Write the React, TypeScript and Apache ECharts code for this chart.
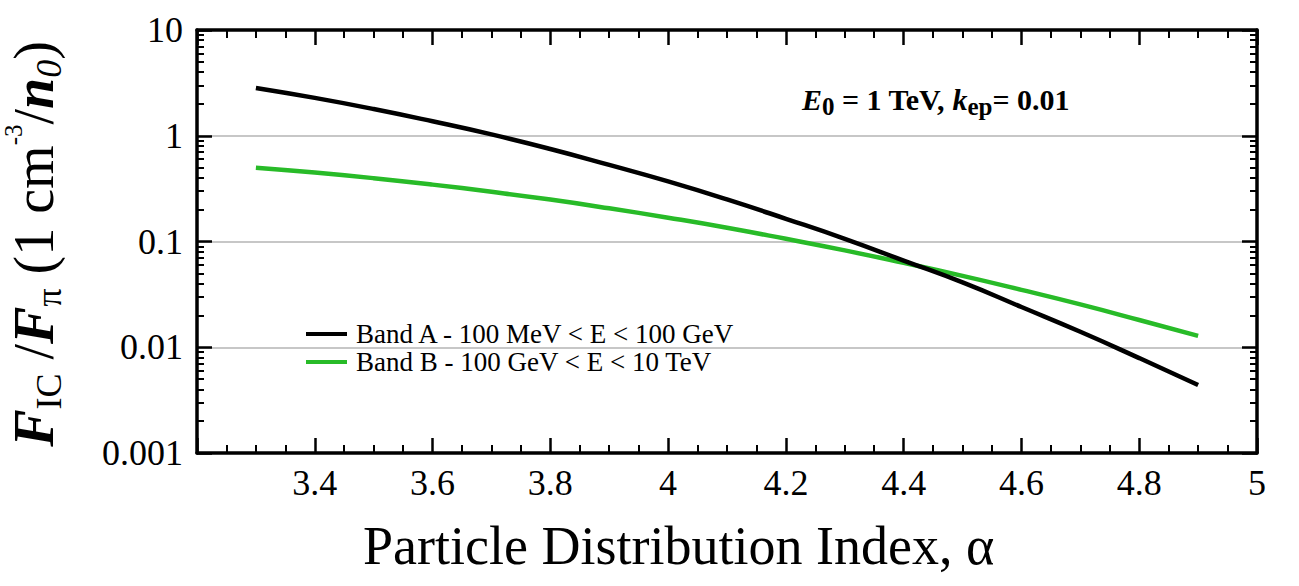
import React, { useEffect, useRef } from 'react';
import * as echarts from 'echarts';

// Particle distribution index (alpha) sample points
const alpha = [3.3, 3.4, 3.5, 3.6, 3.7, 3.8, 3.9, 4.0, 4.1, 4.2, 4.3, 4.4, 4.5, 4.6, 4.7, 4.8, 4.9];
// F_IC / F_pi, Band A (100 MeV < E < 100 GeV)
const bandA = [2.83, 2.28, 1.79, 1.37, 1.03, 0.75, 0.53, 0.37, 0.25, 0.164, 0.106, 0.066, 0.041, 0.024, 0.014, 0.0079, 0.0044];
// F_IC / F_pi, Band B (100 GeV < E < 10 TeV)
const bandB = [0.499, 0.449, 0.397, 0.345, 0.295, 0.249, 0.206, 0.168, 0.135, 0.106, 0.0824, 0.0628, 0.0473, 0.0349, 0.0254, 0.0181, 0.0128];

const seriesNames = ['Band A - 100 MeV < E < 100 GeV', 'Band B - 100 GeV < E < 10 TeV'];
const seriesColors = ['#000000', '#28bb28'];

const yTickLabels = ['0.001', '0.01', '0.1', '1', '10'];
const yMinorTicks = [
  0.002, 0.003, 0.004, 0.005, 0.006, 0.007, 0.008, 0.009,
  0.02, 0.03, 0.04, 0.05, 0.06, 0.07, 0.08, 0.09,
  0.2, 0.3, 0.4, 0.5, 0.6, 0.7, 0.8, 0.9,
  2, 3, 4, 5, 6, 7, 8, 9,
];

const SERIF = 'Liberation Serif';

export default function App() {
  const ref = useRef<HTMLDivElement>(null);

  useEffect(() => {
    const chart = echarts.init(ref.current as HTMLDivElement, null, { renderer: 'svg' });

    const axisLine = { show: true, onZero: false, lineStyle: { color: '#000', width: 3.5 } };
    const majorTick = { show: true, inside: true, length: 15, lineStyle: { color: '#000', width: 2.5 } };

    const xBase = { type: 'value' as const, min: 3.2, max: 5, interval: 0.2 };
    const yBase = { type: 'log' as const, min: 0.001, max: 10, logBase: 10 };

    const option: any = {
      animation: false,
      backgroundColor: '#ffffff',
      textStyle: { fontFamily: SERIF },
      grid: { left: 197, top: 30, right: 42, bottom: 133, containLabel: false },
      xAxis: [
        {
          ...xBase,
          position: 'bottom',
          axisLine,
          axisTick: majorTick,
          minorTick: { show: true, splitNumber: 4, length: 8, lineStyle: { color: '#000', width: 2 } },
          splitLine: { show: false },
          axisLabel: {
            show: true,
            margin: 12,
            showMinLabel: false,
            fontSize: 36,
            fontFamily: SERIF,
            color: '#000',
            formatter: (v: number) => String(Math.round(v * 10) / 10),
          },
        },
        {
          ...xBase,
          position: 'top',
          axisLine,
          axisTick: majorTick,
          minorTick: { show: true, splitNumber: 4, length: 8, lineStyle: { color: '#000', width: 2 } },
          splitLine: { show: false },
          axisLabel: { show: false },
        },
      ],
      yAxis: [
        {
          ...yBase,
          position: 'left',
          axisLine,
          axisTick: majorTick,
          splitLine: { show: true, lineStyle: { color: '#b4b4b4', width: 1.5 } },
          axisLabel: {
            show: true,
            margin: 14,
            fontSize: 36,
            fontFamily: SERIF,
            color: '#000',
            formatter: (_v: number, i: number) => yTickLabels[i] ?? '',
          },
        },
        {
          ...yBase,
          position: 'left',
          axisLine: { show: false },
          axisTick: { show: true, inside: true, length: 7, customValues: yMinorTicks, lineStyle: { color: '#000', width: 2 } },
          splitLine: { show: false },
          axisLabel: { show: false },
        },
        {
          ...yBase,
          position: 'right',
          axisLine,
          axisTick: majorTick,
          splitLine: { show: false },
          axisLabel: { show: false },
        },
        {
          ...yBase,
          position: 'right',
          axisLine: { show: false },
          axisTick: { show: true, inside: true, length: 7, customValues: yMinorTicks, lineStyle: { color: '#000', width: 2 } },
          splitLine: { show: false },
          axisLabel: { show: false },
        },
      ],
      legend: {
        orient: 'vertical',
        left: 301,
        top: 315,
        itemWidth: 41,
        itemHeight: 4,
        itemGap: 0,
        icon: 'rect',
        selectedMode: false,
        textStyle: { fontSize: 27, fontFamily: SERIF, color: '#000', lineHeight: 28, padding: [0, 0, 0, 4] },
        data: seriesNames,
      },
      series: [
        {
          name: seriesNames[0],
          type: 'line',
          xAxisIndex: 0,
          yAxisIndex: 0,
          smooth: true,
          showSymbol: false,
          color: seriesColors[0],
          lineStyle: { color: seriesColors[0], width: 4.5 },
          data: alpha.map((a, i) => [a, bandA[i]]),
          z: 3,
        },
        {
          name: seriesNames[1],
          type: 'line',
          xAxisIndex: 0,
          yAxisIndex: 0,
          smooth: true,
          showSymbol: false,
          color: seriesColors[1],
          lineStyle: { color: seriesColors[1], width: 4.5 },
          data: alpha.map((a, i) => [a, bandB[i]]),
          z: 2,
        },
      ],
      graphic: [
        {
          type: 'text',
          x: 802,
          y: 99,
          style: {
            text: '{ei|E}{es|0}{b| = 1 TeV, }{ei|k}{es|ep}{b|= 0.01}',
            fill: '#000',
            align: 'left',
            verticalAlign: 'middle',
            textAlign: 'left',
            textVerticalAlign: 'middle',
            fontFamily: SERIF,
            fontSize: 30,
            fontWeight: 'bold',
            rich: {
              ei: { fontSize: 30, fontStyle: 'italic', fontWeight: 'bold', fontFamily: SERIF, lineHeight: 40 },
              b: { fontSize: 30, fontWeight: 'bold', fontFamily: SERIF, lineHeight: 40 },
              es: { fontSize: 25, fontWeight: 'bold', fontFamily: SERIF, lineHeight: 16, verticalAlign: 'bottom' },
            },
          },
        },
        {
          type: 'text',
          x: 34,
          y: 244,
          rotation: Math.PI / 2,
          style: {
            text: '{fi|F}{sb|IC}{r| /}{fi|F}{sb|π}{r| (1 cm}{sp|-3}{r|/}{fi|n}{si|0}{r|)}',
            fill: '#000',
            align: 'center',
            verticalAlign: 'middle',
            textAlign: 'center',
            textVerticalAlign: 'middle',
            fontFamily: SERIF,
            fontSize: 56,
            rich: {
              fi: { fontSize: 56, fontStyle: 'italic', fontWeight: 'bold', fontFamily: SERIF, lineHeight: 66 },
              r: { fontSize: 56, fontFamily: SERIF, lineHeight: 66 },
              sb: { fontSize: 36, fontFamily: SERIF, lineHeight: 46, verticalAlign: 'bottom' },
              si: { fontSize: 36, fontStyle: 'italic', fontFamily: SERIF, lineHeight: 46, verticalAlign: 'bottom' },
              sp: { fontSize: 25, fontFamily: SERIF, lineHeight: 42, verticalAlign: 'top' },
            },
          },
        },
        {
          type: 'text',
          x: 363,
          y: 546,
          style: {
            text: 'Particle Distribution Index, α',
            fill: '#000',
            align: 'left',
            verticalAlign: 'middle',
            textAlign: 'left',
            textVerticalAlign: 'middle',
            fontFamily: SERIF,
            fontSize: 54,
          },
        },
      ],
    };

    chart.setOption(option);
    return () => chart.dispose();
  }, []);

  return <div ref={ref} style={{ position: 'fixed', left: 0, top: 0, width: 1299, height: 586 }} />;
}
